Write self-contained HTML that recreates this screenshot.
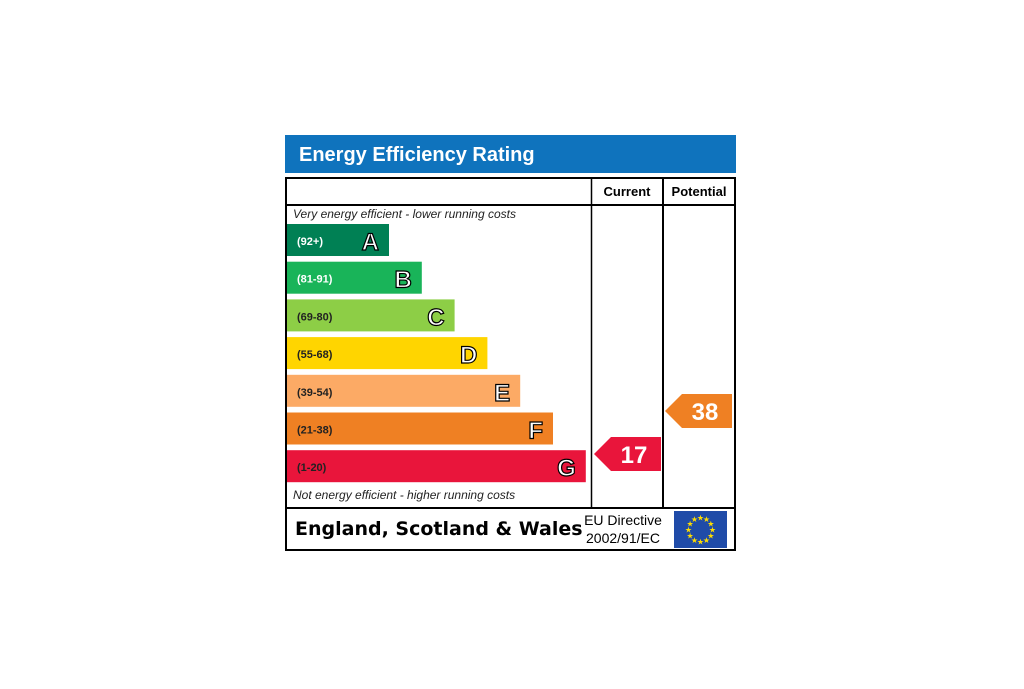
<!DOCTYPE html>
<html><head><meta charset="utf-8"><style>
body{margin:0;background:#fff;width:1024px;height:684px;overflow:hidden}
svg text{font-family:"Liberation Sans",sans-serif}
</style></head><body>
<svg id="c" width="1024" height="684">
<rect x="285" y="135" width="451" height="38" fill="#0f73bd"/>
<text x="299" y="161" font-size="20" font-weight="bold" fill="#fff">Energy Efficiency Rating</text>
<rect x="286" y="178" width="449" height="372" fill="none" stroke="#000" stroke-width="2"/>
<line x1="286" y1="205" x2="735" y2="205" stroke="#000" stroke-width="2"/>
<line x1="286" y1="508" x2="735" y2="508" stroke="#000" stroke-width="2"/>
<line x1="591.5" y1="178" x2="591.5" y2="508" stroke="#000" stroke-width="1.5"/>
<line x1="663" y1="178" x2="663" y2="508" stroke="#000" stroke-width="2"/>
<text x="627" y="196" font-size="13" font-weight="bold" text-anchor="middle">Current</text>
<text x="699" y="196" font-size="13" font-weight="bold" text-anchor="middle">Potential</text>
<text x="293" y="218" font-size="12" font-style="italic" fill="#222">Very energy efficient - lower running costs</text>
<text x="293" y="499" font-size="12" font-style="italic" fill="#222">Not energy efficient - higher running costs</text>
<text x="295" y="535" font-size="19" font-weight="bold" font-family="DejaVu Sans" style="font-family:'DejaVu Sans',sans-serif">England, Scotland &amp; Wales</text>
<text x="623" y="525" font-size="14" text-anchor="middle">EU Directive</text>
<text x="623" y="543" font-size="14" text-anchor="middle">2002/91/EC</text>
<rect x="674" y="511" width="53" height="37" fill="#1f4ba8"/>
<g id="stars"></g>
<g id="bands"></g>
<g id="arrows"></g>
</svg>
<script>
const letters=["A","B","C","D","E","F","G"];
const ranges=["(92+)","(81-91)","(69-80)","(55-68)","(39-54)","(21-38)","(1-20)"];
const colors=["#008054","#19b459","#8dce46","#ffd500","#fcaa65","#ef8023","#e9153b"];
const currentValue=17;
const potentialValue=38;
const NS="http://www.w3.org/2000/svg";
function mk(t,a){const e=document.createElementNS(NS,t);for(const k in a)e.setAttribute(k,a[k]);return e;}
const bands=document.getElementById('bands');
function bandY(i){return 224+i*37.7;}
function bandW(i){return 102+i*32.8;}
letters.forEach((L,i)=>{
  const y=bandY(i),w=bandW(i);
  const r=mk('rect',{x:287,y:y,width:w,height:32,fill:colors[i]});
  
  
  bands.appendChild(r);
  const t=mk('text',{x:297,y:y+21,'font-size':11,'font-weight':'bold',fill:i<2?'#fff':'#222'});
  t.textContent=ranges[i];
  
  
  bands.appendChild(t);
  const l=mk('text',{x:287+w-10,y:y+26,'font-size':24,'font-weight':'bold',fill:'#fff',stroke:'#000','stroke-width':1.2,'text-anchor':'end'});
  l.textContent=L;
  
  
  bands.appendChild(l);
});
function bandIndex(v){return v>=92?0:v>=81?1:v>=69?2:v>=55?3:v>=39?4:v>=21?5:6;}
function valY(v){return 454-(v-17)*2.05;}
const arrows=document.getElementById('arrows');
function arrow(v,x0,name){
  const cy=valY(v),h=34,x1=x0+67;
  const p=mk('polygon',{points:`${x0},${cy} ${x0+17},${cy-h/2} ${x1},${cy-h/2} ${x1},${cy+h/2} ${x0+17},${cy+h/2}`,fill:colors[bandIndex(v)]});
  
  
  arrows.appendChild(p);
  const t=mk('text',{x:x0+40,y:cy+9,'font-size':24,'font-weight':'bold',fill:'#fff','text-anchor':'middle'});
  t.textContent=v;
  
  
  arrows.appendChild(t);
}
arrow(currentValue,594,'current');
arrow(potentialValue,665,'potential');
const stars=document.getElementById('stars');
for(let k=0;k<12;k++){
  const a=k*Math.PI/6;
  const s=mk('text',{x:700.5+12*Math.cos(a),y:529.5+12*Math.sin(a)+3,'font-size':8,fill:'#ffdd00','text-anchor':'middle'});
  s.textContent='★';
  
  
  stars.appendChild(s);
}
</script>
</body></html>
